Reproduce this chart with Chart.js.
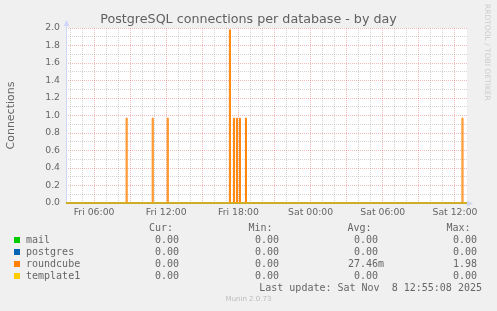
<!DOCTYPE html>
<html>
<head>
<meta charset="utf-8">
<script src="https://cdn.jsdelivr.net/npm/chart.js@4.4.1/dist/chart.umd.min.js"></script>
<style>
body { margin: 0; background: #f0f0f0; }
#wrap { position: relative; width: 497px; height: 311px; overflow: hidden; }
#chart { position: absolute; left: 0; top: 0; }
.t { position: absolute; font: 10px "DejaVu Sans Mono", monospace; color: #666; line-height: 12px; height: 12px; white-space: pre; }
.sw { position: absolute; width: 6px; height: 6px; }
#rrd { position: absolute; left: 483px; top: 4px; font: 7.5px "DejaVu Sans", sans-serif; color: #ccc; writing-mode: vertical-rl; white-space: nowrap; }
#munin { position: absolute; left: 0; top: 295px; width: 497px; text-align: center; font: 7px "DejaVu Sans", sans-serif; color: #bbb; }
</style>
</head>
<body>
<div id="wrap">
  <canvas id="chart" width="497" height="311"></canvas>
  <div id="rrd">RRDTOOL / TOBI OETIKER</div>
  <div id="munin">Munin 2.0.73</div>
</div>
<script>
// hours are counted from Fri 00:00, one sample = 5 min
var xStart = 3.667;   // Fri 03:40
var xEnd = 37;        // Sat 13:00
var sample = 1 / 12;

var seriesNames = ["mail", "postgres", "roundcube", "template1"];
var seriesColors = ["#00cc00", "#0066b3", "#ff8000", "#ffcc00"];

// roundcube spikes, everything else stays at 0
var spikeHours = [8.667, 10.833, 12.083, 17.25, 17.583, 17.833, 18.083, 18.583, 36.583];
var spikeValues = [0.97, 0.97, 0.97, 1.98, 0.97, 0.97, 0.97, 0.97, 0.97];

// legend table
var curValues = [0, 0, 0, 0];
var minValues = [0, 0, 0, 0];
var avgValues = [0, 0, 0.02746, 0];
var maxValues = [0, 0, 1.98, 0];
var lastUpdate = "Last update: Sat Nov  8 12:55:08 2025";

var xTickHours = [6, 12, 18, 24, 30, 36];
var xTickLabels = ["Fri 06:00", "Fri 12:00", "Fri 18:00", "Sat 00:00", "Sat 06:00", "Sat 12:00"];

var rcData = [{x: xStart, y: 0}];
spikeHours.forEach(function (h, i) {
  rcData.push({x: h, y: spikeValues[i]});
  rcData.push({x: h + sample, y: 0});
});
rcData.push({x: xEnd, y: 0});

var flat = [{x: xStart, y: 0}, {x: xEnd, y: 0}];
var datasets = seriesNames.map(function (name, i) {
  return {
    label: name,
    data: name === "roundcube" ? rcData : flat,
    borderColor: seriesColors[i],
    borderWidth: 1,
    pointRadius: 0,
    stepped: true,
    clip: 3,
    order: 4 - i
  };
});

var AXIS = "#cfd6f8";
var munin = {
  id: "munin",
  beforeDraw: function (c) {
    var a = c.chartArea, ctx = c.ctx;
    ctx.save();
    ctx.fillStyle = "#ffffff";
    ctx.fillRect(a.left, a.top, a.right - a.left, a.bottom - a.top);
    ctx.restore();
  },
  beforeDatasetsDraw: function (c) {
    var a = c.chartArea, ctx = c.ctx;
    ctx.save();
    ctx.strokeStyle = AXIS;
    ctx.fillStyle = AXIS;
    ctx.lineWidth = 1;
    ctx.beginPath();
    ctx.moveTo(a.left + 0.5, a.bottom);
    ctx.lineTo(a.left + 0.5, a.top - 4);
    ctx.moveTo(a.left, a.bottom + 0.5);
    ctx.lineTo(a.right + 2, a.bottom + 0.5);
    ctx.stroke();
    ctx.beginPath();
    ctx.moveTo(a.left + 0.5, a.top - 8);
    ctx.lineTo(a.left - 2.5, a.top - 2);
    ctx.lineTo(a.left + 3.5, a.top - 2);
    ctx.closePath();
    ctx.fill();
    ctx.beginPath();
    ctx.moveTo(a.right + 6, a.bottom + 0.5);
    ctx.lineTo(a.right, a.bottom - 2.5);
    ctx.lineTo(a.right, a.bottom + 3.5);
    ctx.closePath();
    ctx.fill();
    ctx.restore();
  }
};

var tickFont = {family: "'DejaVu Sans', sans-serif", size: 9.3};
var MINOR = "rgba(150,150,150,0.42)";
var MAJOR = "rgba(225,90,90,0.42)";

new Chart("chart", {
  type: "line",
  data: {datasets: datasets},
  plugins: [munin],
  options: {
    responsive: false,
    animation: false,
    events: [],
    layout: {padding: 0},
    plugins: {
      legend: {display: false},
      tooltip: {enabled: false},
      title: {
        display: true,
        text: "PostgreSQL connections per database - by day",
        color: "#606060",
        font: {family: "'DejaVu Sans', sans-serif", size: 12.7, weight: "normal"},
        padding: {top: 12, bottom: 0.8}
      }
    },
    scales: {
      x: {
        type: "linear",
        min: xStart,
        max: xEnd,
        afterBuildTicks: function (s) {
          var t = [];
          for (var h = 4; h <= 36; h++) t.push({value: h});
          s.ticks = t;
        },
        afterFit: function (s) { s.height = 108; },
        grid: {
          drawTicks: false,
          color: function (ctx) { return ctx.tick && ctx.tick.value % 3 === 0 ? MAJOR : MINOR; }
        },
        border: {display: false, dash: [1, 1]},
        ticks: {
          autoSkip: false,
          maxRotation: 0,
          padding: 4,
          color: "#666",
          font: tickFont,
          callback: function (v) {
            var i = xTickHours.indexOf(v);
            return i >= 0 ? xTickLabels[i] : "";
          }
        }
      },
      y: {
        min: 0,
        max: 2,
        afterBuildTicks: function (s) {
          var t = [];
          for (var k = 0; k <= 20; k++) t.push({value: k / 10});
          s.ticks = t;
        },
        afterFit: function (s) { s.width = 66; },
        title: {
          display: true,
          text: "Connections",
          color: "#666",
          font: {family: "'DejaVu Sans', sans-serif", size: 11},
          padding: {top: 5, bottom: 0}
        },
        grid: {
          drawTicks: false,
          color: function (ctx) {
            return ctx.tick && Math.round(ctx.tick.value * 10) % 2 === 0 ? MAJOR : MINOR;
          }
        },
        border: {display: false, dash: [1, 1]},
        ticks: {
          autoSkip: false,
          padding: 6,
          color: "#666",
          font: tickFont,
          callback: function (v) {
            return Math.round(v * 10) % 2 === 0 ? v.toFixed(1) : "";
          }
        }
      },
      // empty strip on the right so the title centres on the whole image
      side: {
        position: "right",
        afterFit: function (s) { s.width = 30; },
        grid: {display: false},
        border: {display: false},
        ticks: {display: false}
      }
    }
  }
});

// legend table under the graph
var wrap = document.getElementById("wrap");
function put(text, right, top, left) {
  var d = document.createElement("div");
  d.className = "t";
  d.textContent = text;
  d.style.top = top + "px";
  if (left !== undefined) d.style.left = left + "px";
  else d.style.right = (497 - right) + "px";
  wrap.appendChild(d);
}
function fmt(v) {
  if (v !== 0 && Math.abs(v) < 1) return (v * 1000).toFixed(2) + "m";
  return v.toFixed(2) + " ";
}
var colRight = [185, 285, 384, 483];
var headRight = [173, 272.5, 371.5, 470.5];
["Cur:", "Min:", "Avg:", "Max:"].forEach(function (h, i) { put(h, headRight[i], 222); });
seriesNames.forEach(function (name, r) {
  var top = 234 + r * 12;
  var sw = document.createElement("div");
  sw.className = "sw";
  sw.style.left = "14px";
  sw.style.top = (top + 3) + "px";
  sw.style.background = seriesColors[r];
  wrap.appendChild(sw);
  put(name, 0, top, 26);
  [curValues, minValues, avgValues, maxValues].forEach(function (col, c) {
    put(fmt(col[r]), colRight[c], top);
  });
});
put(lastUpdate, 482, 282);
</script>
</body>
</html>
